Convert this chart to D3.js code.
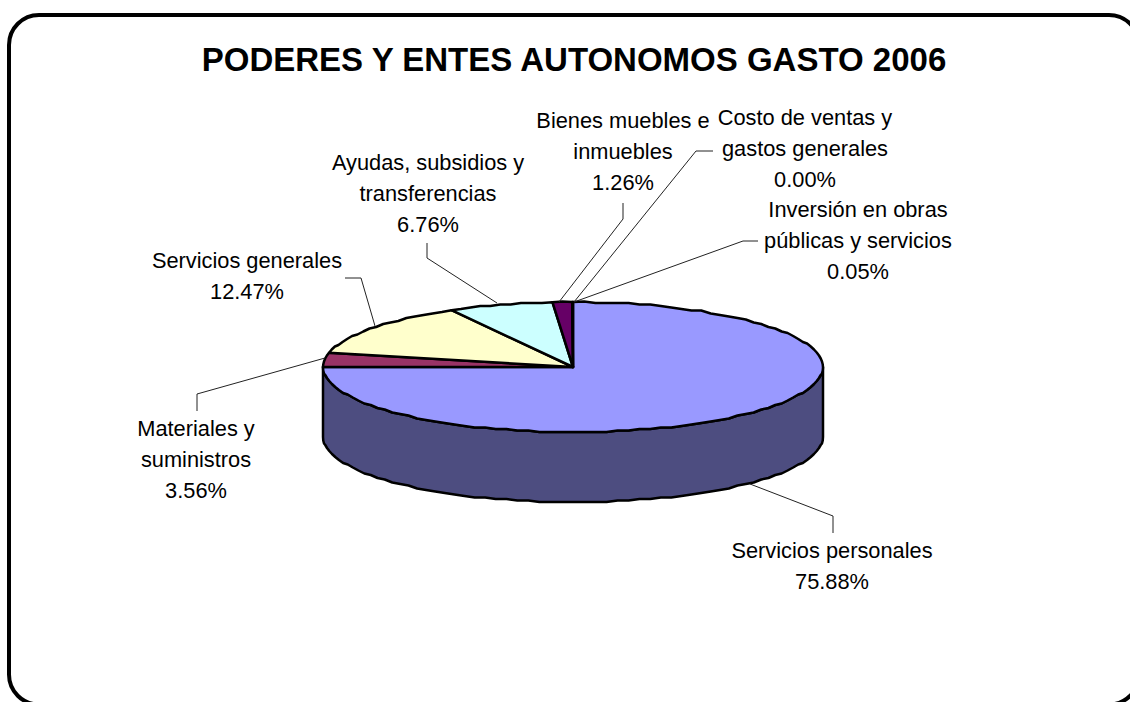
<!DOCTYPE html>
<html><head><meta charset="utf-8">
<script src="https://cdn.jsdelivr.net/npm/d3@7"></script>
<style>html,body{margin:0;background:#fff}svg{display:block}text{font-family:"Liberation Sans",Arial,sans-serif;fill:#000}</style>
</head><body><svg id="c" width="1130" height="702"></svg>
<script>
const titleText = "PODERES Y ENTES AUTONOMOS GASTO 2006";
const categories = ["Servicios personales","Materiales y suministros","Servicios generales","Ayudas, subsidios y transferencias","Bienes muebles e inmuebles","Costo de ventas y gastos generales","Inversión en obras públicas y servicios"];
const values = [75.88,3.56,12.47,6.76,1.26,0.00,0.05];
const colors = ["#9999ff","#993366","#ffffcc","#ccffff","#660066","#ff8080","#0066cc"];
const labelLines = [["Servicios personales","75.88%"],["Materiales y","suministros","3.56%"],["Servicios generales","12.47%"],["Ayudas, subsidios y","transferencias","6.76%"],["Bienes muebles e","inmuebles","1.26%"],["Costo de ventas y","gastos generales","0.00%"],["Inversión en obras","públicas y servicios","0.05%"]];
const labelX = [832,196,247,428,623,805,858];
const labelY = [558,436,268,170,128,125,217];
const leaders = [
 [[750,484],[833,516],[833,533]],
 [[325,358],[197,394],[197,411]],
 [[375,326],[361,278],[345,278]],
 [[497,303],[427,258],[427,243]],
 [[559,302],[623,219],[623,203]],
 [[574,302],[696,151],[713,151]],
 [[574,302],[743,241],[758,241]]
];
const svg = d3.select("#c");
svg.append("rect").attr("x",9).attr("y",15).attr("width",1130).attr("height",689.5).attr("rx",30).attr("ry",30)
  .attr("fill","#fff").attr("stroke","#000").attr("stroke-width",4);
svg.append("text").attr("x",574).attr("y",71).attr("text-anchor","middle").attr("font-size",33).attr("font-weight","bold").text(titleText);

const x = d3.scaleLinear().domain([-1,1]).range([323,823]);
const y = d3.scaleLinear().domain([-1,1]).range([432,302]);
const depth = 70;
// slight perspective warp of the left edge of the tilted disc
const warp = d3.scaleLinear().domain([0,4.768,5.06,5.78,2*Math.PI]).range([0,4.712,5.0,5.78,2*Math.PI]);
const pie = d3.pie().sort(null).value(d=>d);
const arcs = pie(values);
const grid = 1.5;
const snap = v=>Math.round(v/grid)*grid;
const pt = (a,dy=0)=>[x(Math.sin(a)), y(Math.cos(a))+dy];
// the rim is slightly stepped like the low-resolution original
const rim = (a0,a1,dy=0)=>{
  const step = 0.045, n = Math.max(1,Math.ceil(Math.abs(a1-a0)/step));
  return d3.range(0,n+1).map(i=>{
    const p = pt(a0+(a1-a0)*i/n,dy);
    return (i===0||i===n) ? p : [p[0],snap(p[1]-dy)+dy];
  });
};
const line = d3.line();

// side wall
const side = rim(Math.PI/2,3*Math.PI/2,0).concat(rim(3*Math.PI/2,Math.PI/2,depth));
svg.append("path").attr("d",line(side)+"Z").attr("fill","#4d4d80").attr("stroke","#000").attr("stroke-width",2.5).attr("stroke-linejoin","round");

// top slices
arcs.forEach((d,i)=>{
  const a0=warp(d.startAngle),a1=warp(d.endAngle);
  if(d.value===0) return;
  const p=[[x(0),y(0)]].concat(rim(a0,a1));
  svg.append("path").attr("d",line(p)+"Z").attr("fill",colors[i]).attr("stroke","#000").attr("stroke-width",2.5).attr("stroke-linejoin","round");
});

// leaders
leaders.forEach(l=>svg.append("path").attr("d",line(l)).attr("fill","none").attr("stroke","#222").attr("stroke-width",1));

// labels
labelLines.forEach((ls,i)=>{
  const t=svg.append("text").attr("text-anchor","middle").attr("font-size",21.8);
  ls.forEach((s,j)=>t.append("tspan").attr("x",labelX[i]).attr("y",labelY[i]+j*31).text(s));
});
</script></body></html>
